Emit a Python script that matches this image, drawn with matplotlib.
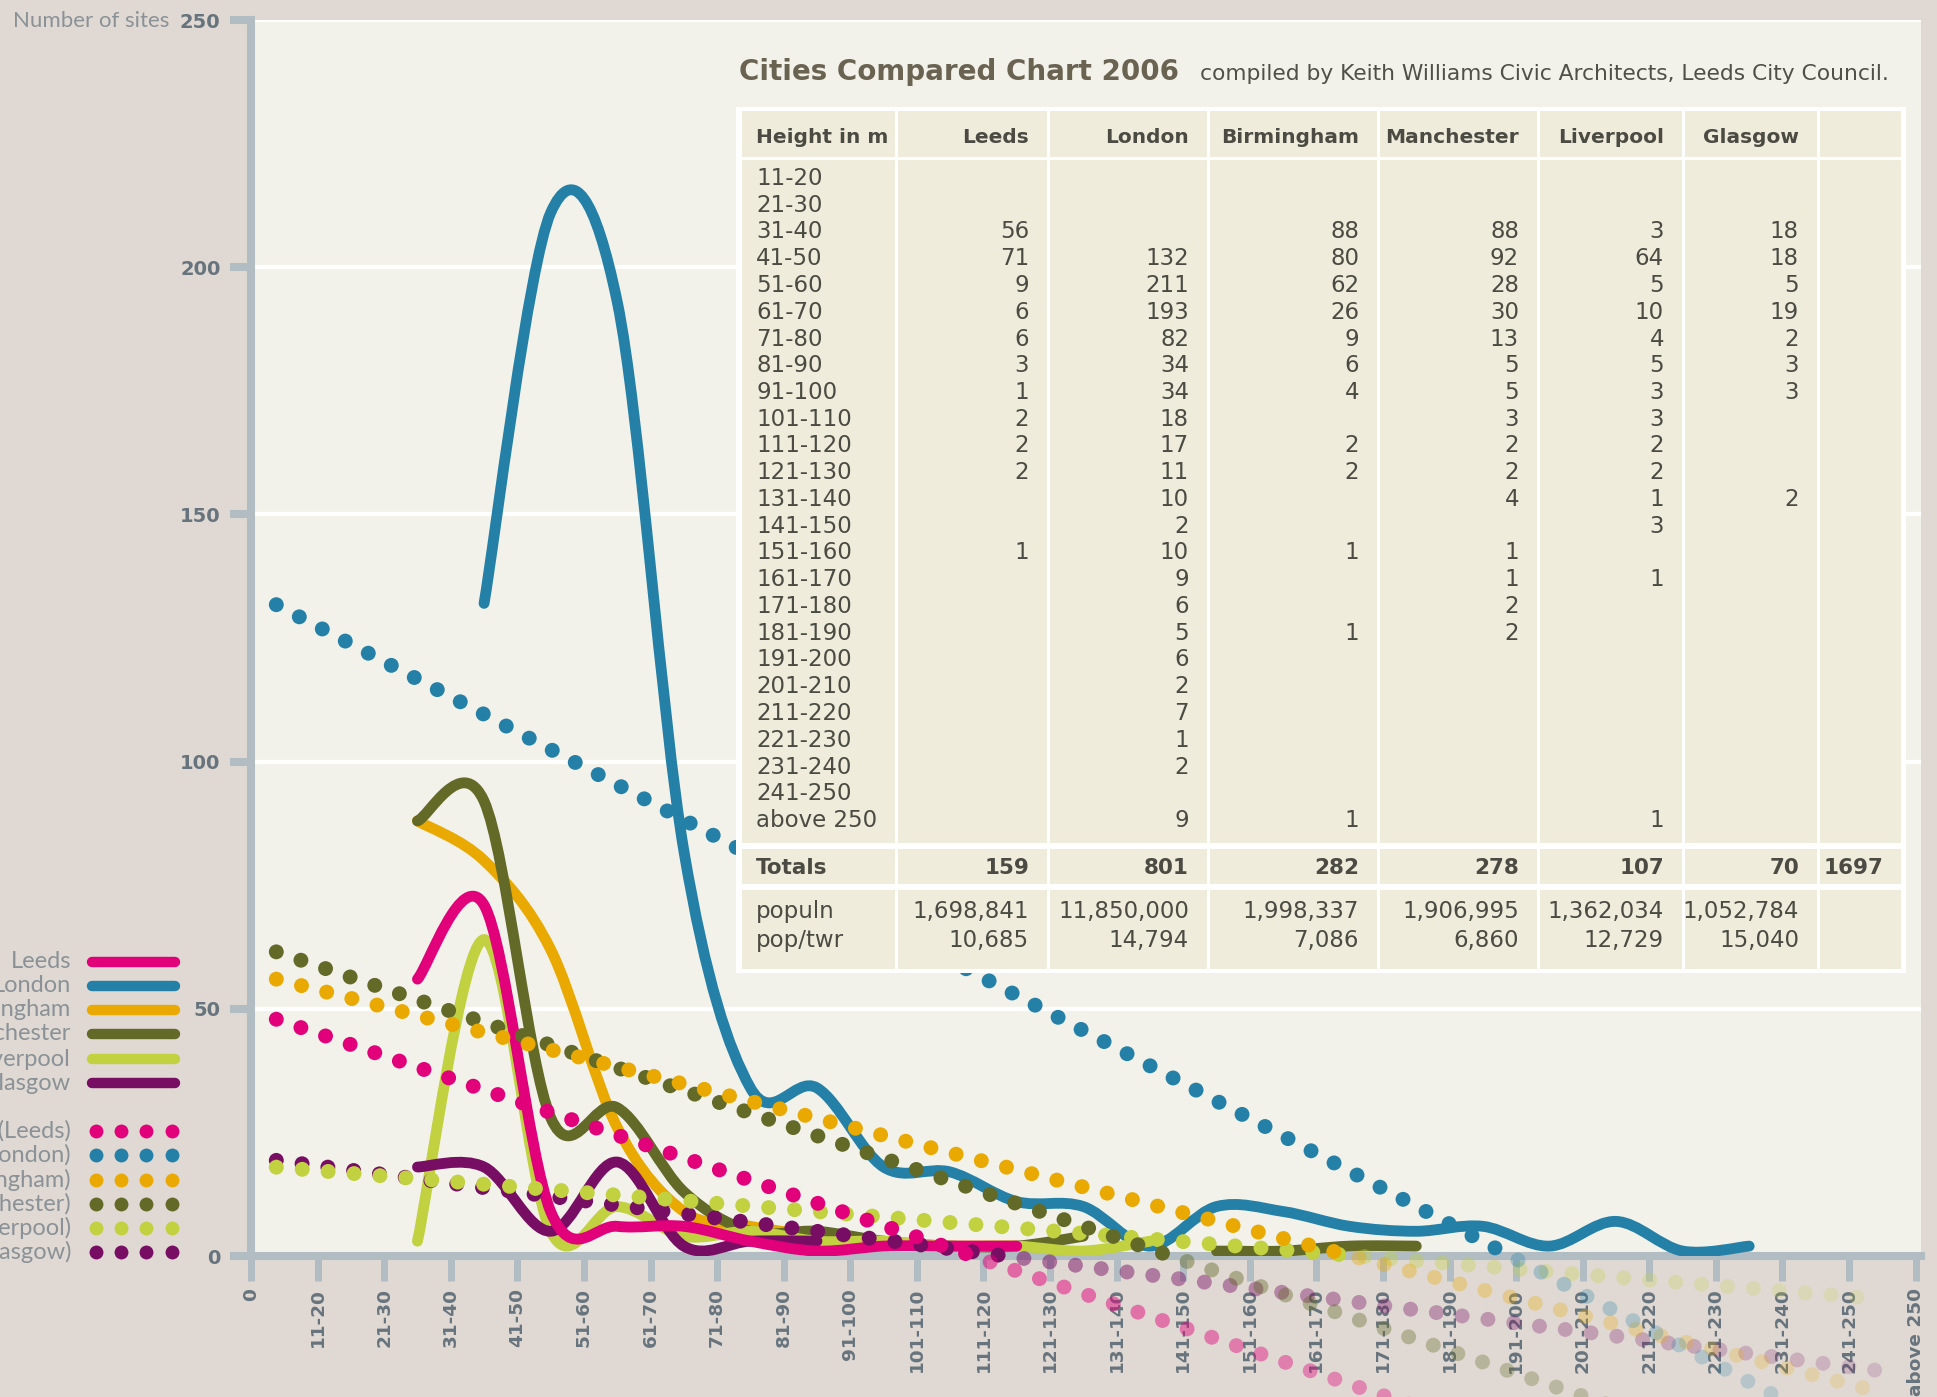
import numpy as np
import matplotlib
matplotlib.use("Agg")
import matplotlib.pyplot as plt
from matplotlib.path import Path
from matplotlib.patches import PathPatch, Rectangle
from matplotlib.lines import Line2D

# ---------------- data ----------------
N = None
height_bins = ['11-20', '21-30', '31-40', '41-50', '51-60', '61-70', '71-80',
               '81-90', '91-100', '101-110', '111-120', '121-130', '131-140',
               '141-150', '151-160', '161-170', '171-180', '181-190', '191-200',
               '201-210', '211-220', '221-230', '231-240', '241-250', 'above 250']
x_tick_labels = ['0'] + height_bins
y_ticks = [0, 50, 100, 150, 200, 250]

cities = ['Leeds', 'London', 'Birmingham', 'Manchester', 'Liverpool', 'Glasgow']
leeds      = [N, N, 56, 71, 9, 6, 6, 3, 1, 2, 2, 2, N, N, 1, N, N, N, N, N, N, N, N, N, N]
london     = [N, N, N, 132, 211, 193, 82, 34, 34, 18, 17, 11, 10, 2, 10, 9, 6, 5, 6, 2, 7, 1, 2, N, 9]
birmingham = [N, N, 88, 80, 62, 26, 9, 6, 4, N, 2, 2, N, N, 1, N, N, 1, N, N, N, N, N, N, 1]
manchester = [N, N, 88, 92, 28, 30, 13, 5, 5, 3, 2, 2, 4, N, 1, 1, 2, 2, N, N, N, N, N, N, N]
liverpool  = [N, N, 3, 64, 5, 10, 4, 5, 3, 3, 2, 2, 1, 3, N, 1, N, N, N, N, N, N, N, N, 1]
glasgow    = [N, N, 18, 18, 5, 19, 2, 3, 3, N, N, N, 2, N, N, N, N, N, N, N, N, N, N, N, N]
series = [leeds, london, birmingham, manchester, liverpool, glasgow]

population = [1698841, 11850000, 1998337, 1906995, 1362034, 1052784]
pop_per_tower = [10685, 14794, 7086, 6860, 12729, 15040]

colors = ['#e2007a', '#2480a6', '#eaa900', '#636a28', '#c1d140', '#780e64']

# ---------------- style ----------------
W, H, DPI = 1937, 1397, 100
fig_bg = '#e0d9d3'
plot_bg = '#f2f2eb'
axis_c = '#b1bcc3'
tick_c = '#67747d'
legend_c = '#8a9297'
cell_c = '#f0ecdc'
table_txt = '#4b4b43'

def fx(px):
    return px / W

def fy(py):
    return 1 - py / H

fig = plt.figure(figsize=(W / DPI, H / DPI), dpi=DPI, facecolor=fig_bg)
ax = fig.add_axes([fx(251), fy(1256), (1921 - 251) / W, (1256 - 20) / H])
ax.set_facecolor(plot_bg)
ax.set_xlim(0, 25.08)
ax.set_ylim(0, 250)
ax.set_axisbelow(True)

for s in ['top', 'right']:
    ax.spines[s].set_visible(False)
for s in ['left', 'bottom']:
    ax.spines[s].set_color(axis_c)
    ax.spines[s].set_linewidth(5.8)
    ax.spines[s].set_capstyle('projecting')

ax.set_xticks(range(len(x_tick_labels)))
ax.set_xticklabels(x_tick_labels, rotation=90, fontweight='bold', fontsize=13.3,
                   color=tick_c, va='top', ha='center')
ax.set_yticks(y_ticks)
ax.set_yticklabels([str(v) for v in y_ticks], fontweight='bold', fontsize=14, color=tick_c)
ax.tick_params(axis='x', direction='out', color=axis_c, width=5, length=18, pad=5)
ax.tick_params(axis='y', direction='out', color=axis_c, width=5.8, length=15, pad=7)
ax.yaxis.grid(True, color='white', lw=3)
ax.xaxis.grid(False)


def smooth_path(xs, ys):
    pts = np.column_stack([xs, ys]).astype(float)
    verts = [pts[0]]
    codes = [Path.MOVETO]
    n = len(pts)
    for j in range(n - 1):
        p0 = pts[j - 1] if j > 0 else pts[j]
        p1 = pts[j]
        p2 = pts[j + 1]
        p3 = pts[j + 2] if j + 2 < n else pts[j + 1]
        c1 = p1 + (p2 - p0) / 6.0
        c2 = p2 - (p3 - p1) / 6.0
        verts += [c1, c2, p2]
        codes += [Path.CURVE4] * 3
    return Path(verts, codes)


# solid smoothed lines (gaps at blank cells)
zorders = {'London': 4.0, 'Birmingham': 4.1, 'Manchester': 4.2,
           'Liverpool': 4.3, 'Glasgow': 4.4, 'Leeds': 4.5}
for name, vals, col in zip(cities, series, colors):
    seg_x, seg_y = [], []
    segs = []
    for i, v in enumerate(vals):
        if v is None:
            if len(seg_x) > 1:
                segs.append((seg_x, seg_y))
            seg_x, seg_y = [], []
        else:
            seg_x.append(i + 0.5)
            seg_y.append(v)
    if len(seg_x) > 1:
        segs.append((seg_x, seg_y))
    for sx, sy in segs:
        patch = PathPatch(smooth_path(sx, sy), fill=False, edgecolor=col, lw=7.8,
                          capstyle='round', joinstyle='round', zorder=zorders[name])
        ax.add_patch(patch)

# linear trend lines (Excel style: x = category number, blanks ignored)
step_px = 26.0
order = list(range(len(cities)))[::-1]
for idx in order:
    vals, col = series[idx], colors[idx]
    xk = np.array([i + 1 for i, v in enumerate(vals) if v is not None], float)
    yk = np.array([v for v in vals if v is not None], float)
    b, a = np.polyfit(xk, yk, 1)
    p_start, p_end = 0.38, len(vals) - 0.5
    d0 = ax.transData.transform((p_start, a + b * (p_start + 0.5)))
    d1 = ax.transData.transform((p_end, a + b * (p_end + 0.5)))
    L = np.hypot(*(d1 - d0))
    n = int(L // step_px) + 1
    t = np.arange(n) * step_px / L
    disp = d0[None, :] + t[:, None] * (d1 - d0)[None, :]
    pts = ax.transData.inverted().transform(disp)
    inside = pts[:, 1] >= 0
    alpha = np.where(inside, 1.0, np.interp(pts[:, 0], [8, 25], [0.62, 0.15]))
    rgba = np.array([matplotlib.colors.to_rgba(col)] * n)
    rgba[:, 3] = alpha
    ax.scatter(pts[:, 0], pts[:, 1], s=115, c=rgba, edgecolors='none',
               clip_on=False, zorder=5)

# ---------------- axis label ----------------
fig.text(fx(13), fy(27), 'Number of sites', fontsize=16, color=legend_c,
         family='Lato', va='baseline', ha='left')

# ---------------- legend ----------------
solid_rows = [962, 986, 1010, 1034, 1059, 1083]
dot_rows = [1131, 1155, 1180, 1204, 1228, 1252]
for name, col, ys, yd in zip(cities, colors, solid_rows, dot_rows):
    fig.text(fx(71), fy(ys), name, fontsize=17, color=legend_c, family='Lato',
             ha='right', va='center')
    fig.add_artist(Line2D([fx(92), fx(175)], [fy(ys), fy(ys)], color=col, lw=7.5,
                          solid_capstyle='round', transform=fig.transFigure))
    fig.text(fx(71), fy(yd), 'Linear (%s)' % name, fontsize=17, color=legend_c,
             family='Lato', ha='right', va='center')
    fig.add_artist(Line2D([fx(96), fx(121), fx(146), fx(172)], [fy(yd)] * 4,
                          color=col, lw=0, marker='o', markersize=10,
                          markeredgewidth=0, transform=fig.transFigure))

# ---------------- title ----------------
fig.text(fx(739), fy(80), 'Cities Compared Chart 2006', fontsize=20, fontweight='bold',
         color='#6b6352', va='baseline', ha='left', zorder=20)
fig.text(fx(1200), fy(80), 'compiled by Keith Williams Civic Architects, Leeds City Council.',
         fontsize=15.7, color='#505049', va='baseline', ha='left', zorder=20)

# ---------------- table ----------------
col_edges = [740, 896, 1048, 1208, 1378, 1538, 1683, 1818, 1902]
bands = [(111, 157), (160, 843), (849, 884), (890, 969)]
fig.add_artist(Rectangle((fx(736), fy(973)), (1906 - 736) / W, (973 - 107) / H,
                         transform=fig.transFigure, facecolor='white',
                         edgecolor='none', zorder=10))
for (t0, t1) in bands:
    for c0, c1 in zip(col_edges[:-1], col_edges[1:]):
        fig.add_artist(Rectangle((fx(c0 + 1.5), fy(t1)), (c1 - c0 - 3) / W, (t1 - t0) / H,
                                 transform=fig.transFigure, facecolor=cell_c,
                                 edgecolor='none', zorder=11))

txt_kw = dict(color=table_txt, va='baseline', zorder=20)
left_x = 756
right_x = [c - 19 for c in col_edges[2:]]

fig.text(fx(left_x), fy(143), 'Height in m', fontsize=14.5, fontweight='bold', ha='left', **txt_kw)
for name, rx in zip(cities, right_x):
    fig.text(fx(rx), fy(143), name, fontsize=14.5, fontweight='bold', ha='right', **txt_kw)

row_step = 26.75
for r, lab in enumerate(height_bins):
    yb = 185 + r * row_step
    fig.text(fx(left_x), fy(yb), lab, fontsize=16.5, ha='left', **txt_kw)
    for vals, rx in zip(series, right_x):
        if vals[r] is not None:
            fig.text(fx(rx), fy(yb), str(vals[r]), fontsize=16.5, ha='right', **txt_kw)

totals = [sum(v for v in vals if v is not None) for vals in series]
fig.text(fx(left_x), fy(874), 'Totals', fontsize=15.5, fontweight='bold', ha='left', **txt_kw)
for tot, rx in zip(totals + [sum(totals)], right_x):
    fig.text(fx(rx), fy(874), str(tot), fontsize=15.5, fontweight='bold', ha='right', **txt_kw)

fig.text(fx(left_x), fy(918), 'populn', fontsize=16.5, ha='left', **txt_kw)
fig.text(fx(left_x), fy(947), 'pop/twr', fontsize=16.5, ha='left', **txt_kw)
for pop, ppt, rx in zip(population, pop_per_tower, right_x):
    fig.text(fx(rx), fy(918), f'{pop:,}', fontsize=16.5, ha='right', **txt_kw)
    fig.text(fx(rx), fy(947), f'{ppt:,}', fontsize=16.5, ha='right', **txt_kw)

fig.savefig('out.png', dpi=DPI, facecolor=fig_bg)
